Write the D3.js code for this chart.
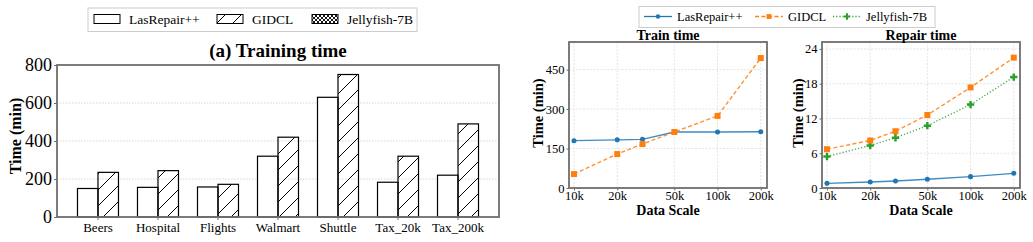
<!DOCTYPE html>
<html>
<head>
<meta charset="utf-8">
<script src="https://cdn.jsdelivr.net/npm/d3@7"></script>
<style>
  body { margin:0; background:#fff; }
</style>
</head>
<body>
<div id="vis-container"></div>
<script>
//data
let methods = ["LasRepair++", "GIDCL", "Jellyfish-7B"];
let datasets = ["Beers", "Hospital", "Flights", "Walmart", "Shuttle", "Tax_20k", "Tax_200k"];
let trainLas = [150, 156, 158, 320, 630, 183, 220];
let trainGidcl = [235, 244, 172, 420, 750, 320, 490];
let barTicks = [0, 200, 400, 600, 800];

let scales = [10000, 20000, 30000, 50000, 100000, 200000];
let scaleTicks = [10000, 20000, 50000, 100000, 200000];
let scaleLabels = ["10k", "20k", "50k", "100k", "200k"];
let lineTrainLas = [180, 183, 185, 213, 213, 214];
let lineTrainGidcl = [53, 129, 167, 213, 274, 494];
let trainTicks = [0, 150, 300, 450];
let repairLas = [0.8, 1.04, 1.2, 1.5, 1.96, 2.53];
let repairGidcl = [6.7, 8.2, 9.8, 12.6, 17.36, 22.5];
let repairJelly = [5.43, 7.34, 8.68, 10.76, 14.4, 19.15];
let repairTicks = [0, 6, 12, 18, 24];

let colors = ["#1f77b4", "#ff7f0e", "#2ca02c"];
let frameColor = "#6e6e6e";
let serif = "Liberation Serif";

//svg container
let svg = d3.select("#vis-container")
  .append("svg")
  .attr("width", 1033)
  .attr("height", 242)
  .attr("font-family", serif);

//patterns
let defs = svg.append("defs");
defs.append("pattern")
  .attr("id", "hatch")
  .attr("patternUnits", "userSpaceOnUse")
  .attr("width", 16).attr("height", 16)
  .append("path")
  .attr("d", "M0,16 L16,0 M-4,4 L4,-4 M12,20 L20,12")
  .attr("stroke", "#000").attr("stroke-width", 1);
defs.append("pattern")
  .attr("id", "cross")
  .attr("patternUnits", "userSpaceOnUse")
  .attr("width", 4).attr("height", 4)
  .append("path")
  .attr("d", "M0,4 L4,0 M0,0 L4,4")
  .attr("stroke", "#000").attr("stroke-width", 0.9);

// ---------- (a) bar chart ----------
let bx = d3.scaleBand().domain(datasets).range([57, 499]).paddingInner(0).paddingOuter(0.183);
let by = d3.scaleLinear().domain([0, 800]).range([217, 65]);
let barW = 20.5;

let gBar = svg.append("g");

//grid
gBar.selectAll(".grid")
  .data(barTicks.filter(d => d > 0 && d < 800))
  .enter().append("line")
  .attr("x1", 57).attr("x2", 499)
  .attr("y1", d => by(d)).attr("y2", d => by(d))
  .attr("stroke", "#ccc").attr("stroke-width", 0.8)
  .attr("stroke-dasharray", "1.5,1.5");

//bars
gBar.selectAll(".las")
  .data(datasets)
  .enter().append("rect")
  .attr("x", (d) => bx(d) + bx.bandwidth() / 2 - barW)
  .attr("y", (d, i) => by(trainLas[i]))
  .attr("width", barW)
  .attr("height", (d, i) => by(0) - by(trainLas[i]))
  .attr("fill", "#fff").attr("stroke", "#000").attr("stroke-width", 1.2);

gBar.selectAll(".gid")
  .data(datasets)
  .enter().append("rect")
  .attr("x", (d) => bx(d) + bx.bandwidth() / 2)
  .attr("y", (d, i) => by(trainGidcl[i]))
  .attr("width", barW)
  .attr("height", (d, i) => by(0) - by(trainGidcl[i]))
  .attr("fill", "url(#hatch)").attr("stroke", "#000").attr("stroke-width", 1.2);

//frame
gBar.append("rect")
  .attr("x", 57).attr("y", 65).attr("width", 442).attr("height", 152)
  .attr("fill", "none").attr("stroke", frameColor).attr("stroke-width", 1.8);

//axes
let barYAxis = gBar.append("g")
  .attr("transform", "translate(57,0)")
  .call(d3.axisLeft(by).tickValues(barTicks).tickSize(3).tickPadding(2));
barYAxis.select(".domain").remove();
barYAxis.attr("font-family", serif);
barYAxis.selectAll("text").attr("font-size", "18px").attr("fill", "#000");
barYAxis.selectAll("line").attr("stroke", frameColor);

let barXAxis = gBar.append("g")
  .attr("transform", "translate(0,217)")
  .call(d3.axisBottom(bx).tickSize(3).tickPadding(3));
barXAxis.select(".domain").remove();
barXAxis.attr("font-family", serif);
barXAxis.selectAll("text").attr("font-size", "13px").attr("fill", "#000");
barXAxis.selectAll("line").attr("stroke", frameColor);

gBar.append("text")
  .attr("x", 278).attr("y", 57)
  .attr("text-anchor", "middle")
  .attr("font-size", "19px").attr("font-weight", "bold")
  .text("(a) Training time");

gBar.append("text")
  .attr("transform", "translate(21,136) rotate(-90)")
  .attr("text-anchor", "middle")
  .attr("font-size", "16px").attr("font-weight", "bold")
  .text("Time (min)");

//bar legend
let gLegA = svg.append("g");
gLegA.append("rect")
  .attr("x", 88).attr("y", 8).attr("width", 329).attr("height", 23.5)
  .attr("fill", "#fff").attr("stroke", "#ccc").attr("stroke-width", 1);
let legAx = [94, 217, 312];
let legAFill = ["#fff", "url(#hatch)", "url(#cross)"];
methods.forEach((m, i) => {
  gLegA.append("rect")
    .attr("x", legAx[i]).attr("y", 14.5).attr("width", 26).attr("height", 9)
    .attr("fill", legAFill[i]).attr("stroke", "#000").attr("stroke-width", 1);
  gLegA.append("text")
    .attr("x", legAx[i] + 35).attr("y", 23.5)
    .attr("font-size", "13.5px")
    .text(m);
});

// ---------- line charts ----------
function lineChart(left, right, title, yMax, ticks, series, labelX) {
  let top = 42, bottom = 188;
  let x = d3.scaleLog().domain([9230, 221000]).range([left, right]);
  let y = d3.scaleLinear().domain([0, yMax]).range([bottom, top]);
  let g = svg.append("g");

  //grid
  g.selectAll(".gx").data(scaleTicks).enter().append("line")
    .attr("x1", d => x(d)).attr("x2", d => x(d))
    .attr("y1", top).attr("y2", bottom)
    .attr("stroke", "#ddd").attr("stroke-width", 0.8).attr("stroke-dasharray", "2,1.5");
  g.selectAll(".gy").data(ticks).enter().append("line")
    .attr("x1", left).attr("x2", right)
    .attr("y1", d => y(d)).attr("y2", d => y(d))
    .attr("stroke", "#ddd").attr("stroke-width", 0.8).attr("stroke-dasharray", "2,1.5");

  let line = d3.line().x((d, i) => x(scales[i])).y(d => y(d));
  let dashes = [null, "4,2.5", "1.2,2"];
  let symbols = [d3.symbolCircle, d3.symbolSquare, d3.symbolCross];
  let sizes = [20, 36, 30];

  series.forEach(s => {
    g.append("path")
      .datum(s.values)
      .attr("d", line)
      .attr("fill", "none")
      .attr("stroke", colors[s.k])
      .attr("stroke-opacity", 0.85)
      .attr("stroke-width", 1.4)
      .attr("stroke-dasharray", dashes[s.k]);
    g.selectAll(".m" + s.k).data(s.values).enter().append("path")
      .attr("transform", (d, i) => `translate(${x(scales[i])},${y(d)})`)
      .attr("d", d3.symbol().type(symbols[s.k]).size(sizes[s.k]))
      .attr("fill", colors[s.k]);
  });

  //frame
  g.append("rect")
    .attr("x", left).attr("y", top).attr("width", right - left).attr("height", bottom - top)
    .attr("fill", "none").attr("stroke", frameColor).attr("stroke-width", 1.8);

  let ya = g.append("g").attr("transform", `translate(${left},0)`)
    .call(d3.axisLeft(y).tickValues(ticks).tickSize(2.5).tickPadding(2));
  ya.select(".domain").remove();
  ya.attr("font-family", serif);
  ya.selectAll("text").attr("font-size", "12.5px").attr("fill", "#000");
  ya.selectAll("line").attr("stroke", frameColor);

  let xa = g.append("g").attr("transform", `translate(0,${bottom})`)
    .call(d3.axisBottom(x).tickValues(scaleTicks).tickFormat((d, i) => scaleLabels[i]).tickSize(2.5).tickPadding(0.5));
  xa.select(".domain").remove();
  xa.attr("font-family", serif);
  xa.selectAll("text").attr("font-size", "12.5px").attr("fill", "#000");
  xa.selectAll("line").attr("stroke", frameColor);

  g.append("text")
    .attr("x", (left + right) / 2).attr("y", 39.5)
    .attr("text-anchor", "middle")
    .attr("font-size", "14px").attr("font-weight", "bold")
    .text(title);

  g.append("text")
    .attr("x", (left + right) / 2).attr("y", 215)
    .attr("text-anchor", "middle")
    .attr("font-size", "14px").attr("font-weight", "bold")
    .text("Data Scale");

  g.append("text")
    .attr("transform", `translate(${labelX},${(top + bottom) / 2 - 2}) rotate(-90)`)
    .attr("text-anchor", "middle")
    .attr("font-size", "14.5px").attr("font-weight", "bold")
    .text("Time (min)");
}

lineChart(569, 767, "Train time", 555, trainTicks,
  [{k: 0, values: lineTrainLas}, {k: 1, values: lineTrainGidcl}], 543);
lineChart(822, 1020, "Repair time", 25.2, repairTicks,
  [{k: 2, values: repairJelly}, {k: 1, values: repairGidcl}, {k: 0, values: repairLas}], 803);

//line legend
let gLegB = svg.append("g");
gLegB.append("rect")
  .attr("x", 639).attr("y", 6.5).attr("width", 296).attr("height", 21)
  .attr("fill", "#fff").attr("stroke", "#ccc").attr("stroke-width", 1);
let legBx = [644, 755, 833];
let legDash = [null, "4,2.5", "1.2,2"];
let legSym = [d3.symbolCircle, d3.symbolSquare, d3.symbolCross];
let legSize = [16, 24, 22];
methods.forEach((m, i) => {
  gLegB.append("line")
    .attr("x1", legBx[i]).attr("x2", legBx[i] + 28)
    .attr("y1", 16.5).attr("y2", 16.5)
    .attr("stroke", colors[i]).attr("stroke-width", 1.3)
    .attr("stroke-dasharray", legDash[i]);
  gLegB.append("path")
    .attr("transform", `translate(${legBx[i] + 14},16.5)`)
    .attr("d", d3.symbol().type(legSym[i]).size(legSize[i]))
    .attr("fill", colors[i]);
  gLegB.append("text")
    .attr("x", legBx[i] + 33).attr("y", 21)
    .attr("font-size", "12.5px")
    .text(m);
});
</script>
</body>
</html>
